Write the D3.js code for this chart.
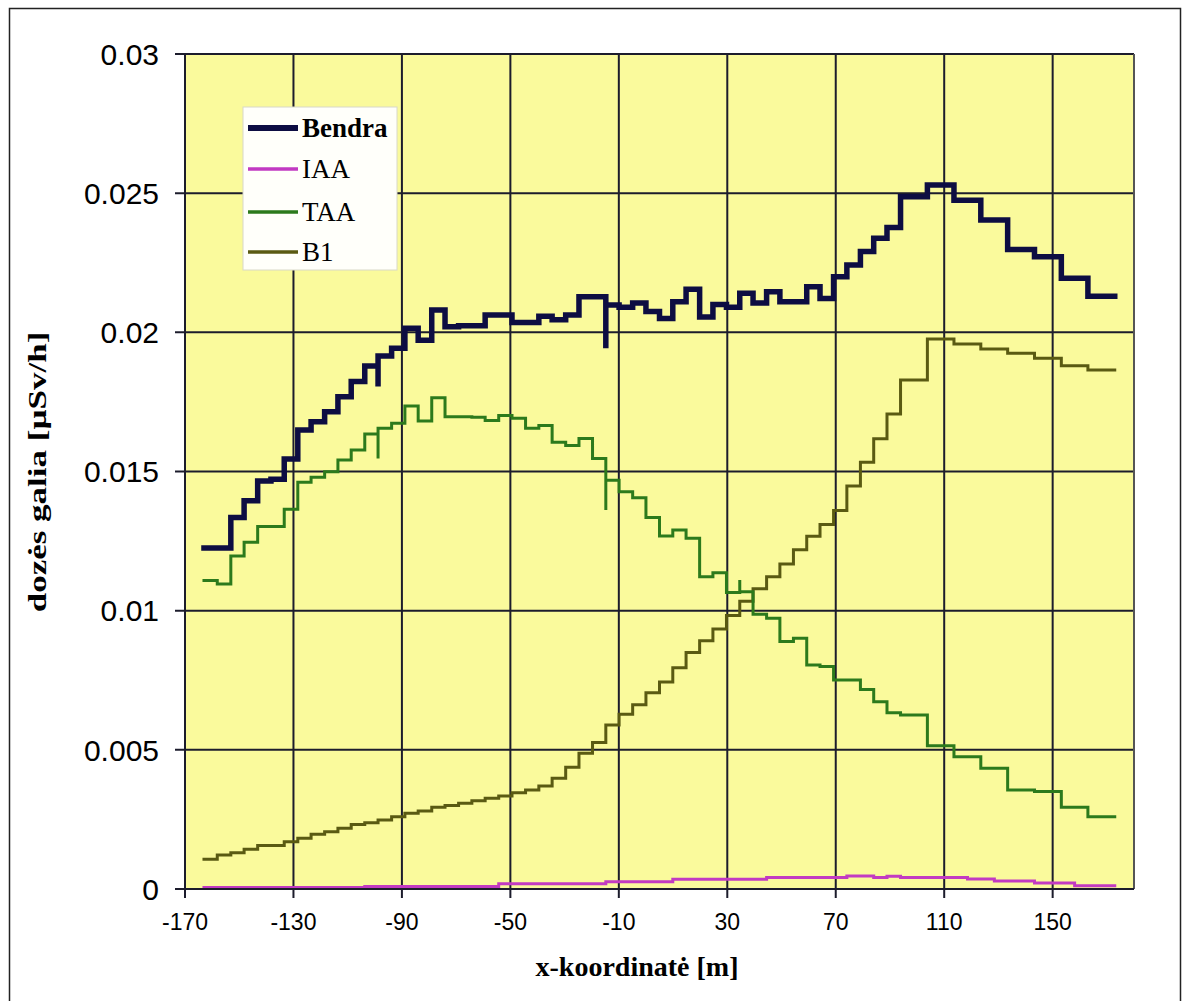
<!DOCTYPE html>
<html>
  <head>
    <meta charset="utf-8">
    <title>Dozės galia</title>
    <style>
      body {
        margin: 0;
        background-color: white;
      }
    </style>
  </head>
  <body>
    <div id="chart"></div>

    <script src="https://d3js.org/d3.v7.min.js"></script>
    <script>
      // step edges along x [m]
      var xEdges = [-163.0, -158.1, -153.1, -148.2, -143.2, -138.3, -133.4, -128.4, -123.5, -118.5,
        -113.6, -108.7, -103.7, -98.8, -93.8, -88.9, -84.0, -79.0, -74.1, -69.1,
        -64.2, -59.3, -54.3, -49.4, -44.4, -39.5, -34.6, -29.6, -24.7, -19.7,
        -14.8, -9.9, -4.9, 0.0, 5.0, 9.9, 14.8, 19.8, 24.7, 29.7,
        34.6, 39.5, 44.5, 49.4, 54.4, 59.3, 64.2, 69.2, 74.1, 79.1,
        84.0, 88.9, 93.9, 98.8, 103.8, 108.7, 113.6, 118.6, 123.5, 128.5,
        133.4, 138.3, 143.3, 148.2, 153.2, 158.1, 163.0, 168.0, 172.9];

      var bendra = [0.01225, 0.01225, 0.01335, 0.01395, 0.01466, 0.01472, 0.01545, 0.01649, 0.01679, 0.01715,
        0.01769, 0.01823, 0.01879, 0.01915, 0.01943, 0.02015, 0.01972, 0.02080, 0.02020, 0.02024,
        0.02024, 0.02062, 0.02062, 0.02035, 0.02035, 0.02058, 0.02045, 0.02062, 0.02128, 0.02128,
        0.02098, 0.02090, 0.02105, 0.02075, 0.02050, 0.02110, 0.02155, 0.02055, 0.02100, 0.02090,
        0.02140, 0.02105, 0.02146, 0.02110, 0.02110, 0.02164, 0.02122, 0.02200, 0.02242, 0.02290,
        0.02338, 0.02377, 0.02487, 0.02487, 0.02529, 0.02529, 0.02475, 0.02475, 0.02404, 0.02404,
        0.02298, 0.02298, 0.02272, 0.02272, 0.02194, 0.02194, 0.02130, 0.02130];

      var iaa = [0.00005, 0.00005, 0.00005, 0.00005, 0.00005, 0.00005, 0.00005, 0.00005, 0.00005, 0.00005,
        0.00005, 0.00005, 0.00009, 0.00009, 0.00009, 0.00009, 0.00009, 0.00009, 0.00009, 0.00009,
        0.00009, 0.00009, 0.00019, 0.00019, 0.00019, 0.00019, 0.00019, 0.00019, 0.00019, 0.00019,
        0.00026, 0.00026, 0.00026, 0.00026, 0.00026, 0.00035, 0.00035, 0.00035, 0.00035, 0.00035,
        0.00035, 0.00035, 0.00041, 0.00041, 0.00041, 0.00041, 0.00041, 0.00041, 0.00047, 0.00047,
        0.00041, 0.00046, 0.00041, 0.00041, 0.00041, 0.00041, 0.00041, 0.00036, 0.00036, 0.00029,
        0.00029, 0.00029, 0.00022, 0.00022, 0.00022, 0.00012, 0.00012, 0.00012];

      var taa = [0.01108, 0.01096, 0.01196, 0.01246, 0.01302, 0.01302, 0.01364, 0.01461, 0.01479, 0.01499,
        0.01541, 0.01577, 0.01635, 0.01655, 0.01673, 0.01735, 0.01681, 0.01765, 0.01697, 0.01697,
        0.01695, 0.01683, 0.01701, 0.01691, 0.01655, 0.01665, 0.01605, 0.01593, 0.01619, 0.01547,
        0.01469, 0.01427, 0.01406, 0.01335, 0.01268, 0.01290, 0.01260, 0.01122, 0.01136, 0.01065,
        0.01068, 0.00987, 0.00973, 0.00889, 0.00901, 0.00805, 0.00799, 0.00751, 0.00751, 0.00717,
        0.00673, 0.00633, 0.00625, 0.00625, 0.00515, 0.00515, 0.00475, 0.00475, 0.00434, 0.00434,
        0.00356, 0.00356, 0.00350, 0.00350, 0.00294, 0.00294, 0.00260, 0.00260];

      var b1 = [0.00107, 0.00122, 0.00130, 0.00143, 0.00156, 0.00156, 0.00170, 0.00182, 0.00197, 0.00206,
        0.00218, 0.00232, 0.00238, 0.00248, 0.00260, 0.00272, 0.00280, 0.00294, 0.00300, 0.00308,
        0.00317, 0.00326, 0.00334, 0.00346, 0.00356, 0.00370, 0.00398, 0.00437, 0.00488, 0.00526,
        0.00589, 0.00628, 0.00662, 0.00705, 0.00744, 0.00795, 0.00850, 0.00892, 0.00934, 0.00983,
        0.01034, 0.01079, 0.01122, 0.01168, 0.01219, 0.01267, 0.01310, 0.01360, 0.01448, 0.01533,
        0.01618, 0.01707, 0.01829, 0.01829, 0.01976, 0.01976, 0.01958, 0.01958, 0.01940, 0.01940,
        0.01925, 0.01925, 0.01907, 0.01907, 0.01880, 0.01880, 0.01865, 0.01865];

      // short spikes at a few step edges
      var spikeX = [-98.8, -14.8, 34.6];
      var bendraSpike = [0.01805, 0.01943, null];
      var taaSpike = [0.01547, 0.01362, 0.01110];

      var xTicks = [-170, -130, -90, -50, -10, 30, 70, 110, 150];
      var yTicks = [0, 0.005, 0.01, 0.015, 0.02, 0.025, 0.03];
      var yTickLabels = ["0", "0.005", "0.01", "0.015", "0.02", "0.025", "0.03"];

      var width = 1190;
      var height = 1001;
      var plotLeft = 185, plotRight = 1134, plotTop = 54, plotBottom = 889;

      var svg = d3.select("#chart").append("svg")
        .attr("width", width)
        .attr("height", height);

      svg.append("rect")
        .attr("x", 9.5).attr("y", 8.5)
        .attr("width", 1171).attr("height", 1010)
        .attr("fill", "white")
        .attr("stroke", "#222")
        .attr("stroke-width", 1.5);

      var x = d3.scaleLinear().domain([-170, 180]).range([plotLeft, plotRight]);
      var y = d3.scaleLinear().domain([0, 0.03]).range([plotBottom, plotTop]);

      svg.append("rect")
        .attr("x", plotLeft).attr("y", plotTop)
        .attr("width", plotRight - plotLeft).attr("height", plotBottom - plotTop)
        .attr("fill", "#fafa9c");

      var grid = svg.append("g").attr("stroke", "#1c1c2c").attr("stroke-width", 2);
      grid.selectAll("line.v")
        .data(xTicks)
        .enter().append("line")
        .attr("x1", function(d) { return x(d); })
        .attr("x2", function(d) { return x(d); })
        .attr("y1", plotTop).attr("y2", plotBottom + 9);
      grid.selectAll("line.h")
        .data(yTicks)
        .enter().append("line")
        .attr("x1", plotLeft - 10).attr("x2", plotRight)
        .attr("y1", function(d) { return y(d); })
        .attr("y2", function(d) { return y(d); });
      grid.append("line")
        .attr("x1", plotRight).attr("x2", plotRight)
        .attr("y1", plotTop).attr("y2", plotBottom)
        .attr("stroke", "#555");

      svg.append("g")
        .selectAll("text")
        .data(yTicks)
        .enter().append("text")
        .attr("x", 159)
        .attr("y", function(d) { return y(d); })
        .attr("dy", "0.36em")
        .attr("text-anchor", "end")
        .attr("font-family", "Liberation Sans, Arial, sans-serif")
        .attr("font-size", 30)
        .text(function(d, i) { return yTickLabels[i]; });

      svg.append("g")
        .selectAll("text")
        .data(xTicks)
        .enter().append("text")
        .attr("x", function(d) { return x(d); })
        .attr("y", 930)
        .attr("text-anchor", "middle")
        .attr("font-family", "Liberation Sans Narrow, Liberation Sans, Arial, sans-serif")
        .attr("font-size", 23)
        .text(function(d) { return d; });

      svg.append("text")
        .attr("x", 637).attr("y", 976)
        .attr("text-anchor", "middle")
        .attr("font-family", "Liberation Serif, Times New Roman, serif")
        .attr("font-weight", "bold")
        .attr("font-size", 28)
        .text("x-koordinatė [m]");

      svg.append("text")
        .attr("transform", "translate(46,472) rotate(-90) scale(1.4,1)")
        .attr("text-anchor", "middle")
        .attr("font-family", "Liberation Serif, Times New Roman, serif")
        .attr("font-weight", "bold")
        .attr("font-size", 25)
        .text("dozės galia [µSv/h]");

      function stepPoints(vals, spikes) {
        var pts = [];
        vals.forEach(function(v, i) {
          var s = spikeX.indexOf(xEdges[i]);
          if (spikes && s >= 0 && spikes[s] != null) pts.push([xEdges[i], spikes[s]]);
          pts.push([xEdges[i], v]);
        });
        pts.push([xEdges[vals.length], vals[vals.length - 1]]);
        return pts;
      }

      var line = d3.line()
        .x(function(d) { return x(d[0]); })
        .y(function(d) { return y(d[1]); })
        .curve(d3.curveStepAfter);

      var series = [
        {name: "Bendra", vals: bendra, spikes: bendraSpike, color: "#0d0d42", w: 5.5},
        {name: "IAA", vals: iaa, spikes: null, color: "#c23ac2", w: 3},
        {name: "TAA", vals: taa, spikes: taaSpike, color: "#2c7a1c", w: 3},
        {name: "B1", vals: b1, spikes: null, color: "#5a5a12", w: 3}
      ];

      svg.append("g")
        .selectAll("path")
        .data(series.slice().reverse())
        .enter().append("path")
        .attr("d", function(d) { return line(stepPoints(d.vals, d.spikes)); })
        .attr("fill", "none")
        .attr("stroke", function(d) { return d.color; })
        .attr("stroke-width", function(d) { return d.w; })
        .attr("stroke-linejoin", "miter")
        .attr("stroke-linecap", "square");

      // axis lines
      svg.append("line")
        .attr("x1", plotLeft).attr("x2", plotLeft).attr("y1", plotTop).attr("y2", plotBottom)
        .attr("stroke", "#1c1c2c").attr("stroke-width", 2);
      svg.append("line")
        .attr("x1", plotLeft - 10).attr("x2", plotRight).attr("y1", plotBottom).attr("y2", plotBottom)
        .attr("stroke", "#1c1c2c").attr("stroke-width", 2);

      var legend = svg.append("g");
      legend.append("rect")
        .attr("x", 243).attr("y", 107)
        .attr("width", 154).attr("height", 163)
        .attr("fill", "#fffffa")
        .attr("stroke", "#d8d8c8");
      var rowY = [128, 169, 212, 252];
      var item = legend.selectAll("g.item")
        .data(series)
        .enter().append("g")
        .attr("transform", function(d, i) { return "translate(0," + rowY[i] + ")"; });
      item.append("line")
        .attr("x1", 248).attr("x2", 298)
        .attr("stroke", function(d) { return d.color; })
        .attr("stroke-width", function(d) { return d.w + 0.5; });
      item.append("text")
        .attr("x", 302)
        .attr("dy", "0.35em")
        .attr("font-family", "Liberation Serif, Times New Roman, serif")
        .attr("font-weight", function(d, i) { return i == 0 ? "bold" : "normal"; })
        .attr("font-size", 27)
        .text(function(d) { return d.name; });
    </script>
  </body>
</html>
